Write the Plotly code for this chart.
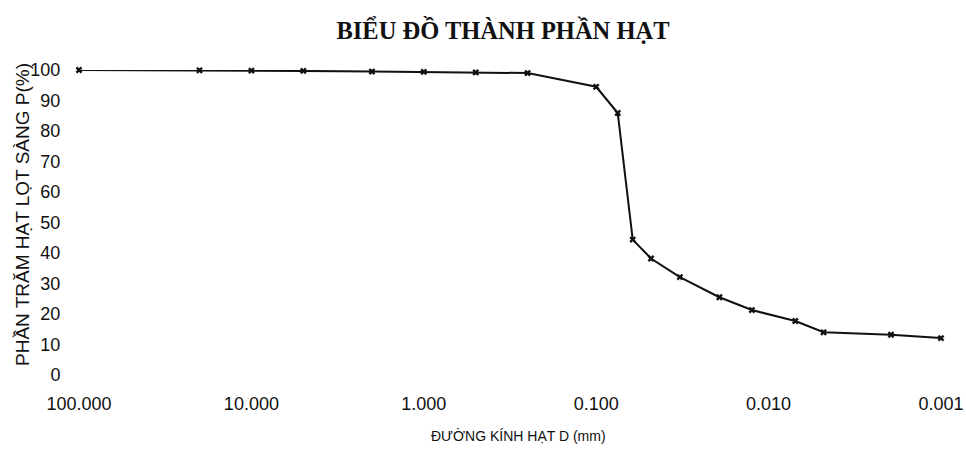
import plotly.graph_objects as go

# Grain size (mm) and percent passing (%)
diameter_mm = [100, 20, 10, 5, 2, 1, 0.5, 0.25, 0.1, 0.075,
               0.0614, 0.0481, 0.0327, 0.0193, 0.0125, 0.0070, 0.0048, 0.00195, 0.001]
percent_passing = [100, 99.9, 99.8, 99.7, 99.5, 99.4, 99.2, 99.0, 94.5, 85.9,
                   44.4, 38.2, 32.1, 25.5, 21.3, 17.7, 14.0, 13.2, 12.1]

x_tick_vals = [100, 10, 1, 0.1, 0.01, 0.001]
x_tick_text = ["100.000", "10.000", "1.000", "0.100", "0.010", "0.001"]
y_tick_vals = [0, 10, 20, 30, 40, 50, 60, 70, 80, 90, 100]

L, R, T, B = 79, 25, 70, 79
PW, PH = 966 - L - R, 454 - T - B

fig = go.Figure()
fig.add_trace(go.Scatter(
    x=diameter_mm, y=percent_passing, mode="lines+markers",
    line=dict(color="#111111", width=2),
    marker=dict(symbol="x", size=6, color="#111111"),
    cliponaxis=False, showlegend=False,
))

fig.update_layout(
    width=966, height=454,
    margin=dict(l=L, r=R, t=T, b=B, autoexpand=False),
    paper_bgcolor="white", plot_bgcolor="white",
    font=dict(family="Liberation Sans, Arial, sans-serif", color="#111111"),
    title=dict(text="<b>BIỂU ĐỒ THÀNH PHẦN HẠT</b>",
               font=dict(family="Liberation Serif, Times New Roman, serif", size=24.5, color="#111111"),
               x=503/966, xanchor="center", y=1 - 30/454, yanchor="middle", yref="container"),
    xaxis=dict(type="log", range=[2, -3], tickmode="array",
               tickvals=x_tick_vals, ticktext=x_tick_text,
               showgrid=False, zeroline=False, showline=False,
               ticks="outside", ticklen=12, tickcolor="rgba(0,0,0,0)",
               tickfont=dict(size=18), automargin=False),
    yaxis=dict(range=[0, 100], tickmode="array", tickvals=y_tick_vals,
               showgrid=False, zeroline=False, showline=False,
               ticks="outside", ticklen=14, tickcolor="rgba(0,0,0,0)",
               tickfont=dict(size=18), automargin=False),
    annotations=[
        dict(text="ĐƯỜNG KÍNH HẠT D (mm)", xref="paper", yref="paper",
             x=(518 - L) / PW, y=-(436 - (454 - B)) / PH,
             xanchor="center", yanchor="middle", showarrow=False,
             font=dict(size=14)),
        dict(text="PHẦN TRĂM HẠT LỌT SÀNG P(%)", xref="paper", yref="paper",
             x=(22 - L) / PW, y=((454 - B) - 215) / PH, textangle=-90,
             xanchor="center", yanchor="middle", showarrow=False,
             font=dict(size=19)),
    ],
)

fig.write_html("out.html")
